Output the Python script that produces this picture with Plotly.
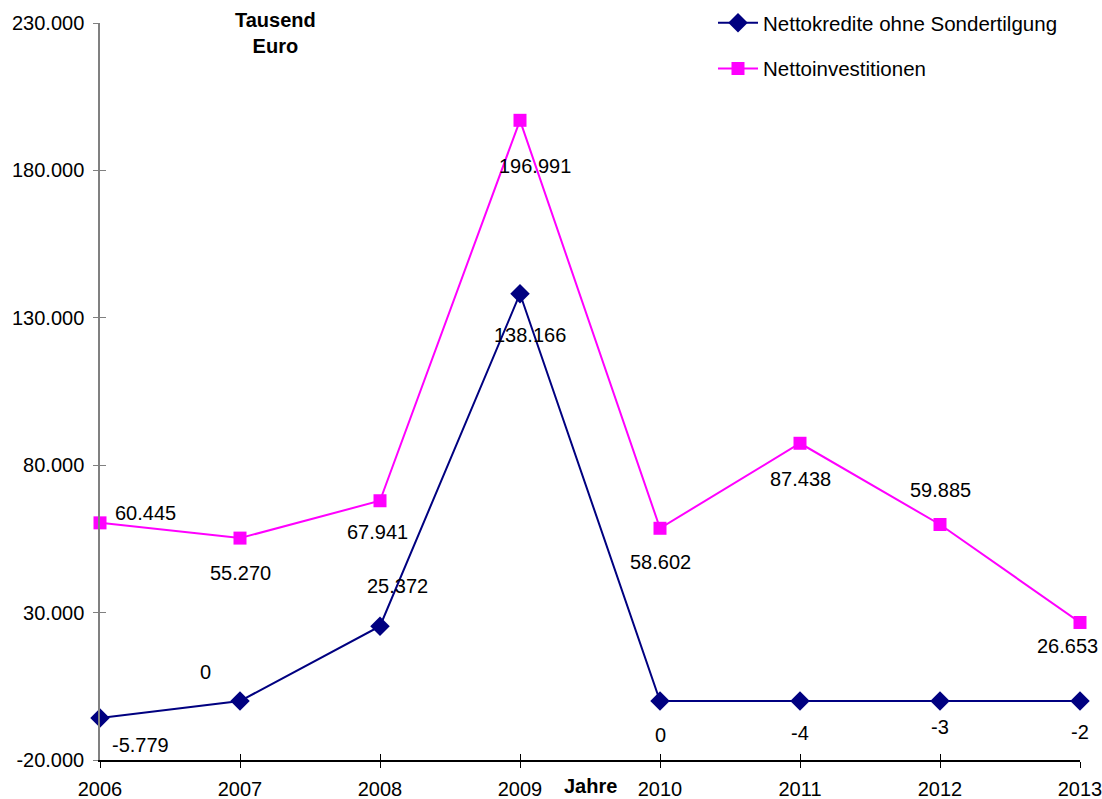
import plotly.graph_objects as go

years = [2006, 2007, 2008, 2009, 2010, 2011, 2012, 2013]
nettokredite = [-5779, 0, 25372, 138166, 0, -4, -3, -2]
nettoinvest = [60445, 55270, 67941, 196991, 58602, 87438, 59885, 26653]
y_ticks = [-20000, 30000, 80000, 130000, 180000, 230000]

name_kredite = "Nettokredite ohne Sondertilgung"
name_invest = "Nettoinvestitionen"

# label pixel offsets (style)
off_invest = [(45, 10), (0, -35), (-3, -31), (15, -46), (0, -34), (0, -36), (0, 35), (-13, -24)]
off_kredite = [(40, -27), (-35, 29), (17, 40), (10, -41), (0, -34), (0, -32), (0, -26), (0, -31)]

FONT = "Liberation Sans, Arial, sans-serif"
FS = 20
NAVY = "#000080"
MAG = "#FF00FF"

W, H = 1102, 799


def de(v):
    return f"{v:,}".replace(",", ".")


fig = go.Figure()
fig.add_trace(go.Scatter(
    x=years, y=nettokredite, name=name_kredite, mode="lines+markers",
    line=dict(color=NAVY, width=2), marker=dict(symbol="diamond", size=15, color=NAVY),
    cliponaxis=False, legendgroup="a"))
fig.add_trace(go.Scatter(
    x=years, y=nettoinvest, name=name_invest, mode="lines+markers",
    line=dict(color=MAG, width=2), marker=dict(symbol="square", size=13, color=MAG),
    cliponaxis=False, legendgroup="b"))
# invisible trace to carry overlay axes (inner halves of crossing ticks)
fig.add_trace(go.Scatter(x=[years[0]], y=[y_ticks[0]], xaxis="x2", yaxis="y2",
                         mode="markers", marker=dict(opacity=0), showlegend=False,
                         hoverinfo="skip"))

annots = []
for yr, v, (dx, dy) in zip(years, nettoinvest, off_invest):
    annots.append(dict(x=yr, y=v, xref="x", yref="y", text=de(v), showarrow=False,
                       xshift=dx, yshift=dy, font=dict(family=FONT, size=FS, color="black")))
for yr, v, (dx, dy) in zip(years, nettokredite, off_kredite):
    annots.append(dict(x=yr, y=v, xref="x", yref="y", text=de(v), showarrow=False,
                       xshift=dx, yshift=dy, font=dict(family=FONT, size=FS, color="black")))
annots.append(dict(x=0.179, y=1.0, xref="paper", yref="paper", xanchor="center", yanchor="top",
                   yshift=16, text="<b>Tausend<br>Euro</b>", showarrow=False, align="center",
                   font=dict(family=FONT, size=FS, color="black")))
annots.append(dict(x=0.5, y=0, xref="paper", yref="paper", xanchor="center", yanchor="top",
                   yshift=-14, borderpad=0, text="<b>Jahre</b>", showarrow=False,
                   font=dict(family=FONT, size=FS, color="black")))

fig.update_layout(
    width=W, height=H,
    margin=dict(l=100, r=22, t=23, b=39, autoexpand=False),
    paper_bgcolor="white", plot_bgcolor="white",
    font=dict(family=FONT, size=FS, color="black"),
    showlegend=True,
    legend=dict(x=0.647, y=1 - 3 / H, xref="container", yref="container",
                xanchor="left", yanchor="top", bgcolor="rgba(0,0,0,0)",
                font=dict(family=FONT, size=20.5), tracegroupgap=16, itemwidth=40),
    xaxis=dict(range=[years[0], years[-1]], tickvals=years, ticktext=[str(y) for y in years],
               showline=True, linecolor="black", linewidth=1.5, ticks="outside", ticklen=6,
               tickcolor="black", tickwidth=1, showgrid=False, zeroline=False,
               ticklabelstandoff=4, automargin=False, ticklabeloverflow="allow",
               tickfont=dict(family=FONT, size=FS), anchor="y"),
    yaxis=dict(range=[y_ticks[0], y_ticks[-1]], tickvals=y_ticks, ticktext=[de(v) for v in y_ticks],
               showline=True, linecolor="#808080", linewidth=1.5, ticks="outside", ticklen=5,
               tickcolor="#808080", showgrid=False, zeroline=False, automargin=False,
               ticklabelstandoff=5, ticklabeloverflow="allow",
               tickfont=dict(family=FONT, size=FS), anchor="x"),
    xaxis2=dict(range=[years[0], years[-1]], overlaying="x", tickvals=years, ticks="inside",
                ticklen=6, tickcolor="black", showticklabels=False, showgrid=False,
                zeroline=False, showline=False, anchor="y2"),
    yaxis2=dict(range=[y_ticks[0], y_ticks[-1]], overlaying="y", tickvals=y_ticks, ticks="inside",
                ticklen=6, tickcolor="#808080", showticklabels=False, showgrid=False,
                zeroline=False, showline=False, anchor="x2"),
    annotations=annots,
)

# remove the default 8px page margin so the figure fills the window exactly
fig.write_html("out.html", config={"displayModeBar": False},
               post_script="document.body.style.margin='0';document.body.style.overflow='hidden';")
